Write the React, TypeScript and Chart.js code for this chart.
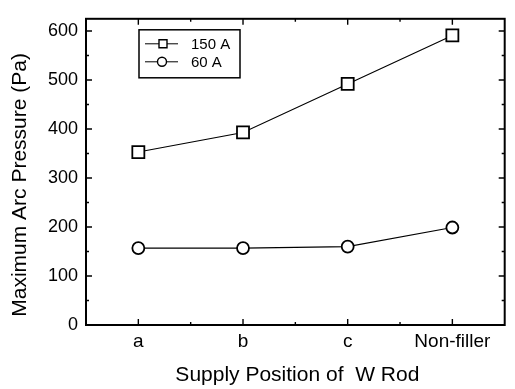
import React, { useEffect, useRef } from 'react';
import { Chart, registerables } from 'chart.js';

Chart.register(...registerables);

const categories = ['a', 'b', 'c', 'Non-filler'];
const series150A = [353, 393, 492, 591];
const series60A = [157, 157, 160, 199];
const seriesLabels = ['150 A', '60 A'];
const yMajorTicks = [0, 100, 200, 300, 400, 500, 600];
const yMinorTicks = [50, 150, 250, 350, 450, 550];
const xTitle = 'Supply Position of  W Rod';
const yTitle = 'Maximum Arc Pressure (Pa)';

const FONT = '"Liberation Sans", Arial, Helvetica, sans-serif';

const decorPlugin = {
  id: 'decor',
  afterDraw(chart: any) {
    const { ctx, chartArea: a, scales } = chart;
    const xs = scales.x;
    const ys = scales.y;
    ctx.save();
    ctx.strokeStyle = '#000';
    ctx.fillStyle = '#000';
    // frame
    ctx.lineWidth = 2;
    ctx.strokeRect(a.left, a.top, a.right - a.left, a.bottom - a.top);
    // ticks
    ctx.lineWidth = 1.4;
    ctx.beginPath();
    yMajorTicks.forEach((v) => {
      const p = ys.getPixelForValue(v);
      ctx.moveTo(a.left, p); ctx.lineTo(a.left + 6, p);
      ctx.moveTo(a.right, p); ctx.lineTo(a.right - 6, p);
    });
    yMinorTicks.forEach((v) => {
      const p = ys.getPixelForValue(v);
      ctx.moveTo(a.left, p); ctx.lineTo(a.left + 3, p);
      ctx.moveTo(a.right, p); ctx.lineTo(a.right - 3, p);
    });
    categories.forEach((_, i) => {
      const p = xs.getPixelForValue(i);
      ctx.moveTo(p, a.bottom); ctx.lineTo(p, a.bottom - 6);
      ctx.moveTo(p, a.top); ctx.lineTo(p, a.top + 6);
      if (i < categories.length - 1) {
        const m = (p + xs.getPixelForValue(i + 1)) / 2;
        ctx.moveTo(m, a.bottom); ctx.lineTo(m, a.bottom - 3);
        ctx.moveTo(m, a.top); ctx.lineTo(m, a.top + 3);
      }
    });
    ctx.stroke();

    // legend
    const bx = a.left + 53;
    const by = a.top + 11;
    ctx.lineWidth = 1.5;
    ctx.strokeRect(bx, by, 101, 48);
    const rows = [by + 14, by + 32];
    ctx.font = `15px ${FONT}`;
    ctx.textBaseline = 'middle';
    ctx.textAlign = 'left';
    rows.forEach((ry, idx) => {
      ctx.lineWidth = 1;
      ctx.beginPath();
      ctx.moveTo(bx + 6, ry); ctx.lineTo(bx + 39, ry);
      ctx.stroke();
      ctx.lineWidth = 1.4;
      ctx.fillStyle = '#fff';
      ctx.beginPath();
      if (idx === 0) {
        ctx.rect(bx + 20, ry - 4, 8, 8);
      } else {
        ctx.arc(bx + 23, ry, 4.5, 0, Math.PI * 2);
      }
      ctx.fill();
      ctx.stroke();
      ctx.fillStyle = '#000';
      ctx.fillText(seriesLabels[idx], bx + 52, ry + 1);
    });

    // axis titles
    ctx.font = `21px ${FONT}`;
    ctx.textAlign = 'center';
    ctx.textBaseline = 'middle';
    ctx.fillText(xTitle, (a.left + a.right) / 2 + 2, 375);
    ctx.save();
    ctx.translate(20, (a.top + a.bottom) / 2 + 13);
    ctx.rotate(-Math.PI / 2);
    ctx.fillText(yTitle, 0, 0);
    ctx.restore();
    ctx.restore();
  },
};

export default function App() {
  const ref = useRef<HTMLCanvasElement>(null);
  useEffect(() => {
    document.body.style.margin = '0';
    const chart = new Chart(ref.current as HTMLCanvasElement, {
      type: 'line',
      data: {
        labels: categories,
        datasets: [
          {
            label: seriesLabels[0],
            data: series150A,
            borderColor: '#000',
            borderWidth: 1.1,
            pointStyle: 'rect',
            pointRadius: 8.5,
            pointBorderWidth: 1.8,
            pointBackgroundColor: '#fff',
            pointBorderColor: '#000',
            tension: 0,
          },
          {
            label: seriesLabels[1],
            data: series60A,
            borderColor: '#000',
            borderWidth: 1.1,
            pointStyle: 'circle',
            pointRadius: 6,
            pointBorderWidth: 1.8,
            pointBackgroundColor: '#fff',
            pointBorderColor: '#000',
            tension: 0,
          },
        ],
      },
      options: {
        animation: false,
        responsive: false,
        layout: { padding: { top: 10, right: 2, left: 0, bottom: 0 } },
        plugins: { legend: { display: false }, tooltip: { enabled: false } },
        scales: {
          x: {
            type: 'category',
            offset: true,
            grid: { display: false, drawTicks: false },
            border: { display: false },
            ticks: { color: '#000', font: { family: FONT, size: 19 }, padding: 5, maxRotation: 0 },
            afterFit: (s: any) => { s.height = 64; },
          },
          y: {
            min: 0,
            max: 625,
            grid: { display: false, drawTicks: false },
            border: { display: false },
            ticks: { color: '#000', font: { family: FONT, size: 18 }, padding: 8, stepSize: 100 },
            afterBuildTicks: (s: any) => {
              s.ticks = yMajorTicks.map((v) => ({ value: v }));
            },
            afterFit: (s: any) => { s.width = 86; },
          },
        },
      },
      plugins: [decorPlugin],
    });
    return () => chart.destroy();
  }, []);
  return (
    <div style={{ position: 'absolute', left: 0, top: 0, width: 515, height: 389 }}>
      <canvas ref={ref} width={515} height={389} style={{ background: '#fff' }} />
    </div>
  );
}
